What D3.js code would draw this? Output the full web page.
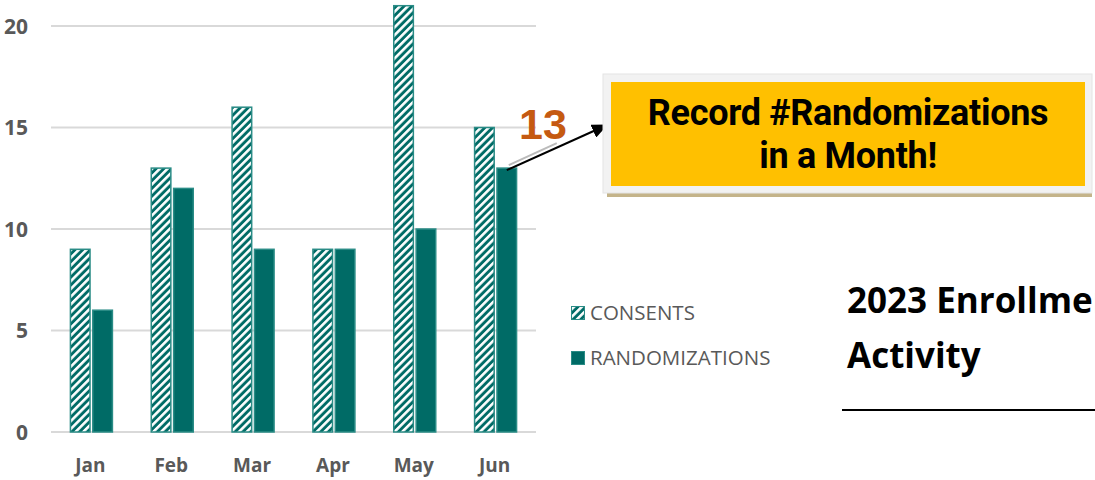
<!DOCTYPE html>
<html><head><meta charset="utf-8">
<script src="https://cdn.jsdelivr.net/npm/d3@7"></script>
<style>body{margin:0;background:#fff;overflow:hidden}svg{display:block}</style>
</head><body>
<script>
const months = ["Jan","Feb","Mar","Apr","May","Jun"];
const consents = [9,13,16,9,21,15];
const randomizations = [6,12,9,9,10,13];
const seriesNames = ["CONSENTS","RANDOMIZATIONS"];
const yTicks = [0,5,10,15,20];
const calloutValue = "13";
const calloutLines = ["Record #Randomizations","in a Month!"];
const titleLines = ["2023 Enrollment","Activity"];

const W=1095,H=480;
const teal="#006B66", tealEdge="#2A8C86";
const svg=d3.select("body").append("svg").attr("width",W).attr("height",H);
const defs=svg.append("defs");
const pat=defs.append("pattern").attr("id","hatch").attr("patternUnits","userSpaceOnUse")
  .attr("width",5.5).attr("height",5.5).attr("patternTransform","rotate(45)");
pat.append("rect").attr("width",5.5).attr("height",5.5).attr("fill",teal);
pat.append("rect").attr("x",0).attr("width",2.6).attr("height",5.5).attr("fill","#fff");
defs.append("marker").attr("id","arr").attr("viewBox","0 0 16 14").attr("refX",15).attr("refY",7)
  .attr("markerUnits","userSpaceOnUse").attr("markerWidth",16).attr("markerHeight",14)
  .attr("orient","auto")
  .append("path").attr("d","M0,0L16,7L0,14z").attr("fill","#000");

const x=d3.scaleBand().domain(months).range([51,536]);
const y=d3.scaleLinear().domain([0,20]).range([432,26]);
const inner=d3.scaleBand().domain(seriesNames).range([x.bandwidth()/2-21.5,x.bandwidth()/2+21.5]).paddingInner(0.08);

// grid
svg.append("g").selectAll("line").data(yTicks).join("line")
  .attr("x1",51).attr("x2",536).attr("y1",d=>y(d)).attr("y2",d=>y(d))
  .attr("stroke","#d9d9d9").attr("stroke-width",2);
// y labels
svg.append("g").selectAll("text").data(yTicks).join("text")
  .attr("x",28).attr("y",d=>y(d)).attr("dy","0.36em").attr("text-anchor","end")
  .attr("font-family","Open Sans").attr("font-weight","bold").attr("font-size",21).attr("fill","#595959")
  .text(d=>d);
// x labels
svg.append("g").selectAll("text").data(months).join("text")
  .attr("x",d=>x(d)+x.bandwidth()/2-1).attr("y",472).attr("text-anchor","middle")
  .attr("font-family","Open Sans").attr("font-weight","bold").attr("font-size",19).attr("fill","#595959")
  .text(d=>d);

const series=[{name:seriesNames[0],vals:consents,fill:"url(#hatch)"},{name:seriesNames[1],vals:randomizations,fill:teal}];
series.forEach(s=>{
  svg.append("g").selectAll("rect").data(months).join("rect")
    .attr("x",(d)=>x(d)+inner(s.name)+0.5)
    .attr("y",(d,i)=>y(s.vals[i]))
    .attr("width",inner.bandwidth()-1)
    .attr("height",(d,i)=>y(0)-y(s.vals[i]))
    .attr("fill",s.fill).attr("stroke",tealEdge).attr("stroke-width",1.5);
});

// legend
const leg=svg.append("g");
series.forEach((s,i)=>{
  const ly=313+i*45;
  leg.append("rect").attr("x",571.5).attr("y",ly-6.5).attr("width",13).attr("height",13)
    .attr("fill",s.fill).attr("stroke",tealEdge).attr("stroke-width",1);
  leg.append("text").attr("x",590).attr("y",ly).attr("dy","0.36em")
    .attr("font-family","Open Sans").attr("font-size",20.5).attr("fill","#595959").text(s.name);
});

// callout
const lastM=months[months.length-1];
const bx=x(lastM)+inner(seriesNames[1])+inner.bandwidth()/2, by=y(randomizations[randomizations.length-1]);
svg.append("text").attr("x",543).attr("y",139).attr("text-anchor","middle")
  .attr("font-family","Liberation Sans").attr("font-weight","bold").attr("font-size",43).attr("fill","#C55A11")
  .text(calloutValue);
svg.append("line").attr("x1",bx+2).attr("y1",by-3).attr("x2",bx+50).attr("y2",by-25)
  .attr("stroke","#bbb").attr("stroke-width",2);
svg.append("line").attr("x1",bx).attr("y1",by+2).attr("x2",607).attr("y2",125)
  .attr("stroke","#000").attr("stroke-width",2).attr("marker-end","url(#arr)");

svg.append("rect").attr("x",607).attr("y",78).attr("width",485).attr("height",119).attr("fill","#C4B48A");
svg.append("rect").attr("x",603).attr("y",74).attr("width",489).attr("height",119).attr("fill","#F2F2F2").attr("stroke","#e4e4e4");
svg.append("rect").attr("x",611).attr("y",82).attr("width",474).attr("height",104).attr("fill","#FFC000");
svg.append("g").selectAll("text").data(calloutLines).join("text")
  .attr("x",848).attr("y",(d,i)=>125+i*43).attr("text-anchor","middle")
  .attr("font-family","Roboto").attr("font-weight","bold").attr("font-size",36).attr("fill","#000")
  .attr("letter-spacing","-0.3")
  .text(d=>d);

// title
svg.append("g").selectAll("text").data(titleLines).join("text")
  .attr("x",847).attr("y",(d,i)=>313+i*55)
  .attr("font-family","Open Sans").attr("font-weight","bold").attr("font-size",35).attr("fill","#000")
  .text(d=>d);
svg.append("line").attr("x1",842).attr("x2",1095).attr("y1",410).attr("y2",410).attr("stroke","#000").attr("stroke-width",2);
</script>
</body></html>
